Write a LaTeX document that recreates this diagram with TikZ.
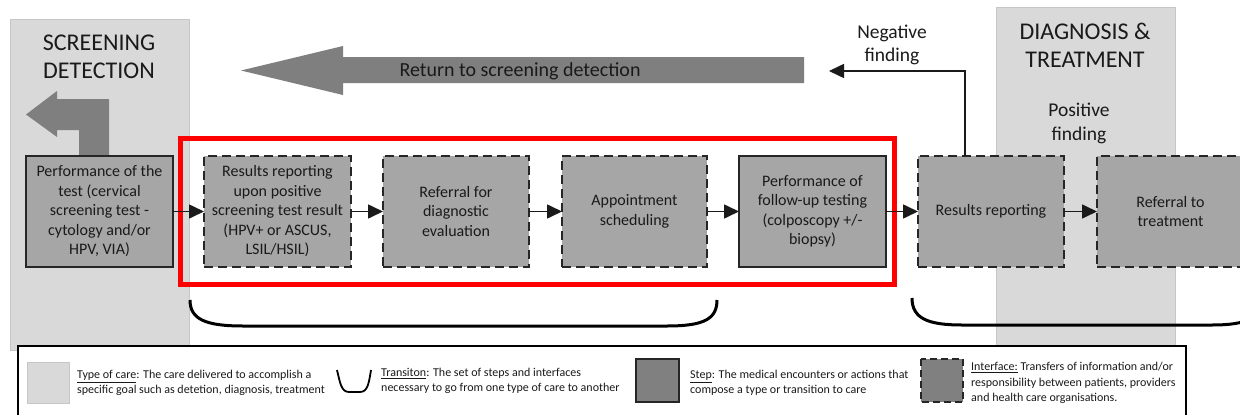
\documentclass[tikz,border=0pt]{standalone}
\usepackage{fontspec}
\setmainfont{Carlito}
\usetikzlibrary{arrows.meta}
\definecolor{carebg}{HTML}{D9D9D9}
\definecolor{careline}{HTML}{C6C6C6}
\definecolor{stepfill}{HTML}{A6A6A6}
\definecolor{bigarrow}{HTML}{7F7F7F}
\definecolor{swatch}{HTML}{808080}
\definecolor{ink}{HTML}{1A1A1A}
\definecolor{edge}{HTML}{262626}
\tikzset{
  careband/.style={fill=carebg, draw=careline, line width=0.8pt},
  stepbox/.style={draw=edge, line width=1.6pt, fill=stepfill, minimum width=147pt, minimum height=111pt,
    inner sep=0pt, outer sep=0pt, align=center, font=\fontsize{16}{19.5}\selectfont, text=ink},
  ifacebox/.style={stepbox, line width=1.8pt, dash pattern=on 9pt off 5pt},
  flow/.style={line width=1.6pt, draw=ink, -{Triangle[length=15pt,width=14pt]}},
  transit/.style={line width=3pt, draw=black},
  headtext/.style={align=center, font=\fontsize{24}{28}\selectfont, text=ink},
  findtext/.style={align=center, font=\fontsize{19.5}{23.5}\selectfont, text=ink},
  legtext/.style={anchor=west, align=left, font=\fontsize{12}{15.5}\selectfont, text=ink, inner sep=0pt},
  bigshape/.style={fill=bigarrow, draw=none},
}
\begin{document}
\begin{tikzpicture}[x=1pt,y=-1pt]
\useasboundingbox (0,0) rectangle (1240,415);
\clip (0,0) rectangle (1240,415);
\fill[white] (0,0) rectangle (1240,415);

% types of care
\draw[careband] (10,19) rectangle (189,350);
\draw[careband] (996,7) rectangle (1175,350);
\node[headtext] (hscr) at (99,57) {SCREENING\\DETECTION};
\node[headtext] (hdia) at (1085,45) {DIAGNOSIS \&\\TREATMENT};
\node[findtext] (pos) at (1079,123.5) {Positive\\finding};

% bent arrow back to screening
\fill[bigshape] (109,156) -- (109,99) -- (57,99) -- (57,91) -- (26,114.5) -- (57,137) -- (57,130) -- (79,130) -- (79,156) -- cycle;

% return arrow
\fill[bigshape] (804,57) -- (343,57) -- (343,46) -- (241,70.5) -- (343,95) -- (343,83) -- (804,83) -- cycle;
\node[font=\fontsize{20}{24}\selectfont, text=ink] (ret) at (520,71) {Return to screening detection};

% transitions
\draw[transit] (190,300) .. controls (190,319) and (205,326) .. (243,326) -- (667,326) .. controls (704,326) and (717,319) .. (717,300);
\draw[transit] (912,298) .. controls (912,318) and (927,325) .. (962,325) -- (1212,325) .. controls (1247,325) and (1262,318) .. (1262,298);

% red highlight
\draw[red, line width=5pt] (180,138) rectangle (894,284);

% steps and interfaces
\node[stepbox] (b1) at (99.5,211.5) {Performance of the\\test (cervical\\screening test -\\cytology and/or\\HPV, VIA)};
\node[ifacebox] (b2) at (277.5,211.5) {Results reporting\\upon positive\\screening test result\\(HPV+ or ASCUS,\\LSIL/HSIL)};
\node[ifacebox, minimum width=146pt] (b3) at (456,211.5) {Referral for\\diagnostic\\evaluation};
\node[ifacebox, minimum width=145pt] (b4) at (634.5,211.5) {Appointment\\scheduling};
\node[stepbox] (b5) at (812.5,211.5) {Performance of\\follow-up testing\\(colposcopy +/-\\biopsy)};
\node[ifacebox, minimum width=146pt] (b6) at (991,211.5) {Results reporting};
\node[ifacebox] (b7) at (1170.5,211.5) {Referral to\\treatment};

\draw[flow] (b1) -- (b2);
\draw[flow] (b2) -- (b3);
\draw[flow] (b3) -- (b4);
\draw[flow] (b4) -- (b5);
\draw[flow] (b5) -- (b6);
\draw[flow] (b6) -- (b7);

% negative finding
\coordinate (negturn) at (965,71);
\coordinate (negend) at (829,71);
\draw[flow] (b6.north -| negturn) -- (negturn) -- (negend);
\node[findtext] (neg) at (892,45) {Negative\\finding};

% legend
\draw[line width=2.5pt, draw=black, fill=white] (18,346) rectangle (1186,430);
\draw[fill=carebg, draw=careline, line width=0.8pt] (27,362) rectangle (69,403);
\node[legtext] (lg1) at (77,383) {\underline{Type of care}: The care delivered to accomplish a\\specific goal such as detetion, diagnosis, treatment};
\draw[line width=1.8pt, draw=black] (337,370) .. controls (340,382) and (341,392) .. (349,392) -- (360,392) .. controls (368,392) and (369,382) .. (371,370);
\node[legtext] (lg2) at (381,381) {\underline{Transiton}: The set of steps and interfaces\\necessary to go from one type of care to another};
\draw[fill=swatch, draw=edge, line width=1.3pt] (636,359) rectangle (679,402);
\node[legtext] (lg3) at (690,383) {\underline{Step}: The medical encounters or actions that\\compose a type or transition to care};
\draw[fill=swatch, draw=edge, line width=2pt, dash pattern=on 7pt off 4pt] (921,359) rectangle (963,402);
\node[legtext] (lg4) at (971,383) {\underline{Interface:} Transfers of information and/or\\responsibility between patients, providers\\and health care organisations.};
\end{tikzpicture}
\end{document}
